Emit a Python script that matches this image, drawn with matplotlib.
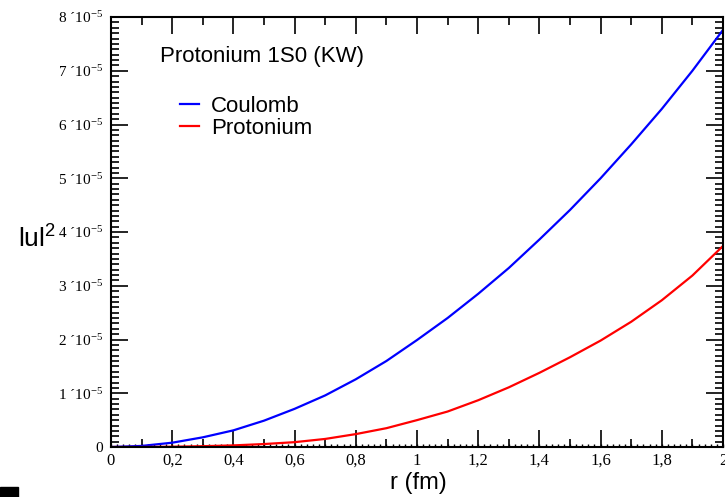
import numpy as np
import matplotlib
matplotlib.use("Agg")
import matplotlib.pyplot as plt
from matplotlib.ticker import MultipleLocator, FuncFormatter
from matplotlib.patches import Rectangle

# Werte (|u|^2 in Einheiten von 1e-5)
r = [0.0, 0.1, 0.2, 0.3, 0.4, 0.5, 0.6, 0.7, 0.8, 0.9, 1.0,
     1.1, 1.2, 1.3, 1.4, 1.5, 1.6, 1.7, 1.8, 1.9, 2.0]
coulomb = [0.0, 0.02, 0.08, 0.18, 0.31, 0.49, 0.71, 0.96, 1.26, 1.60, 1.99,
           2.40, 2.85, 3.33, 3.86, 4.41, 5.00, 5.63, 6.29, 7.00, 7.76]
protonium = [0.0, 0.0, 0.005, 0.015, 0.03, 0.055, 0.09, 0.15, 0.24, 0.35, 0.50,
             0.66, 0.87, 1.11, 1.38, 1.67, 1.98, 2.33, 2.73, 3.19, 3.74]
labels = ["Coulomb", "Protonium"]
colors = ["#0000ff", "#ff0000"]

plt.rcParams['mathtext.fontset'] = 'custom'
plt.rcParams['mathtext.rm'] = 'Liberation Serif'

fig = plt.figure(figsize=(7.25, 4.97), dpi=100)
ax = fig.add_axes([111/725, 1-447/497, 612/725, 430/497])

scale = 1e-5
ax.plot(r, np.array(coulomb)*scale, color=colors[0], lw=1.6, label=labels[0],
        solid_joinstyle='round')
ax.plot(r, np.array(protonium)*scale, color=colors[1], lw=1.6, label=labels[1],
        solid_joinstyle='round')

ax.set_xlim(0, 2)
ax.set_ylim(0, 8e-5)

ax.xaxis.set_major_locator(MultipleLocator(0.2))
ax.xaxis.set_minor_locator(MultipleLocator(0.1))
ax.yaxis.set_major_locator(MultipleLocator(1e-5))
ax.yaxis.set_minor_locator(MultipleLocator(0.1e-5))

def xfmt(v, pos):
    if abs(v - round(v)) < 1e-9:
        return "%d" % round(v)
    return ("%.1f" % v).replace(".", ",")

def yfmt(v, pos):
    n = int(round(v / 1e-5))
    if n == 0:
        return "0"
    return r"$\mathrm{%d\;´10^{-5}}$" % n

ax.xaxis.set_major_formatter(FuncFormatter(xfmt))
ax.yaxis.set_major_formatter(FuncFormatter(yfmt))

ax.tick_params(which='both', direction='in', top=True, right=True, width=1.2)
ax.tick_params(which='major', length=12, pad=5)
ax.tick_params(which='minor', length=6)
ax.tick_params(axis='x', which='major', labelsize=12, pad=4)
ax.tick_params(axis='y', which='major', labelsize=11, pad=6)
for lab in ax.get_xticklabels() + ax.get_yticklabels():
    lab.set_family('Liberation Serif')

# feine Striche an der x-Achse
sec = ax.secondary_xaxis('bottom')
sec.xaxis.set_major_locator(MultipleLocator(0.02))
sec.tick_params(direction='in', length=2.5, width=1, labelbottom=False)
sec.spines['bottom'].set_visible(False)

for s in ax.spines.values():
    s.set_linewidth(1.5)

ax.text(0.08, 0.907, "Protonium 1S0 (KW)", transform=ax.transAxes,
        fontsize=16, family='Liberation Sans', va='center')
leg = ax.legend(loc='upper left', bbox_to_anchor=(0.113, 0.817), frameon=False,
                prop={'family': 'Liberation Sans', 'size': 16},
                handlelength=0.85, handletextpad=0.55, labelspacing=0.05,
                borderpad=0, borderaxespad=0)

fig.text(18/725, 1-238/497, r"lul$^{\mathregular{2}}$", fontsize=19,
         family='Liberation Sans', va='center', ha='left')
fig.text(418/725, 1-483/497, "r (fm)", fontsize=17, family='Liberation Sans',
         va='center', ha='center')

fig.patches.append(Rectangle((0, 0), 18/725, 10/497, transform=fig.transFigure,
                             color='black', figure=fig))

fig.savefig("out.png", dpi=100)
